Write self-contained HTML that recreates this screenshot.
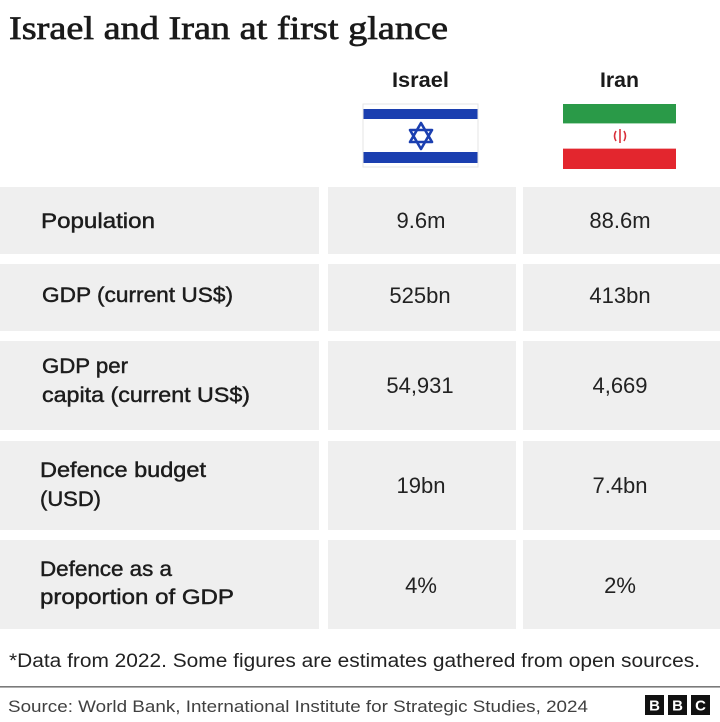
<!DOCTYPE html>
<html>
<head>
<meta charset="utf-8">
<style>
  html, body { margin:0; padding:0; background:#ffffff; }
  body { width:720px; height:722px; overflow:hidden; }
  svg { display:block; }
  .lab { font-family:"Liberation Sans", sans-serif; font-size:21px; fill:#1c1c1c; stroke:#1c1c1c; stroke-width:0.45px; }
  .val { font-family:"Liberation Sans", sans-serif; font-size:22px; fill:#222; text-anchor:middle; }
  .hdr { font-family:"Liberation Sans", sans-serif; font-size:21px; font-weight:bold; fill:#1a1a1a; text-anchor:middle; }
</style>
</head>
<body>
<svg width="720" height="722" viewBox="0 0 720 722" xmlns="http://www.w3.org/2000/svg">
  <rect x="0" y="0" width="720" height="722" fill="#ffffff"/>

  <!-- Title -->
  <text x="9" y="39" font-family="Liberation Serif, serif" font-size="33" fill="#1a1a1a" stroke="#1a1a1a" stroke-width="0.7" textLength="439" lengthAdjust="spacingAndGlyphs">Israel and Iran at first glance</text>

  <!-- Headers -->
  <text class="hdr" x="420.5" y="87" textLength="57" lengthAdjust="spacingAndGlyphs">Israel</text>
  <text class="hdr" x="619.5" y="87" textLength="39" lengthAdjust="spacingAndGlyphs">Iran</text>

  <!-- Israel flag -->
  <rect x="363" y="104" width="115" height="63" fill="#ffffff" stroke="#e6e6e6" stroke-width="1"/>
  <rect x="363.5" y="109" width="114" height="10" fill="#1b3fb0"/>
  <rect x="363.5" y="152" width="114" height="11" fill="#1b3fb0"/>
  <g fill="none" stroke="#1b3fb0" stroke-width="2.6" stroke-linejoin="round">
    <polygon points="421,123 432,142 410,142"/>
    <polygon points="421,149 432,130 410,130"/>
  </g>

  <!-- Iran flag -->
  <rect x="563" y="104" width="113" height="19" fill="#2a9a48"/>
  <rect x="563" y="123" width="113" height="26" fill="#ffffff"/>
  <rect x="563" y="149" width="113" height="20" fill="#e3262e"/>
  <line x1="563" y1="123.5" x2="676" y2="123.5" stroke="#a8d8b4" stroke-width="1"/>
  <line x1="563" y1="148.5" x2="676" y2="148.5" stroke="#f2b0b3" stroke-width="1"/>
  <g fill="none" stroke="#d9303a" stroke-width="1.6">
    <path d="M616,131 Q613,136 616,141"/>
    <path d="M624,131 Q627,136 624,141"/>
    <line x1="620" y1="129" x2="620" y2="143"/>
  </g>

  <!-- Cells -->
  <g fill="#efefef">
    <rect x="0" y="187" width="319" height="67"/>
    <rect x="328" y="187" width="188" height="67"/>
    <rect x="523" y="187" width="197" height="67"/>

    <rect x="0" y="264" width="319" height="67"/>
    <rect x="328" y="264" width="188" height="67"/>
    <rect x="523" y="264" width="197" height="67"/>

    <rect x="0" y="341" width="319" height="89"/>
    <rect x="328" y="341" width="188" height="89"/>
    <rect x="523" y="341" width="197" height="89"/>

    <rect x="0" y="441" width="319" height="89"/>
    <rect x="328" y="441" width="188" height="89"/>
    <rect x="523" y="441" width="197" height="89"/>

    <rect x="0" y="540" width="319" height="89"/>
    <rect x="328" y="540" width="188" height="89"/>
    <rect x="523" y="540" width="197" height="89"/>
  </g>

  <!-- Labels -->
  <text class="lab" x="41" y="228" textLength="114" lengthAdjust="spacingAndGlyphs">Population</text>
  <text class="lab" x="42" y="302" textLength="191" lengthAdjust="spacingAndGlyphs">GDP (current US$)</text>
  <text class="lab" x="42" y="373" textLength="86" lengthAdjust="spacingAndGlyphs">GDP per</text>
  <text class="lab" x="42" y="402" textLength="208" lengthAdjust="spacingAndGlyphs">capita (current US$)</text>
  <text class="lab" x="40" y="477" textLength="166" lengthAdjust="spacingAndGlyphs">Defence budget</text>
  <text class="lab" x="40" y="506" textLength="61" lengthAdjust="spacingAndGlyphs">(USD)</text>
  <text class="lab" x="40" y="576" textLength="132" lengthAdjust="spacingAndGlyphs">Defence as a</text>
  <text class="lab" x="40" y="604" textLength="194" lengthAdjust="spacingAndGlyphs">proportion of GDP</text>

  <!-- Values -->
  <text class="val" x="421" y="228">9.6m</text>
  <text class="val" x="620" y="228">88.6m</text>
  <text class="val" x="420" y="303">525bn</text>
  <text class="val" x="620" y="303">413bn</text>
  <text class="val" x="420" y="393">54,931</text>
  <text class="val" x="620" y="393">4,669</text>
  <text class="val" x="421" y="493">19bn</text>
  <text class="val" x="620" y="493">7.4bn</text>
  <text class="val" x="421" y="593">4%</text>
  <text class="val" x="620" y="593">2%</text>

  <!-- Footnote -->
  <text x="9" y="667" font-family="Liberation Sans, sans-serif" font-size="19" fill="#222" textLength="691" lengthAdjust="spacingAndGlyphs">*Data from 2022. Some figures are estimates gathered from open sources.</text>

  <!-- Divider -->
  <rect x="0" y="686" width="720" height="1.6" fill="#7a7a7a"/>

  <!-- Source -->
  <text x="8" y="712" font-family="Liberation Sans, sans-serif" font-size="17" fill="#404040" textLength="580" lengthAdjust="spacingAndGlyphs">Source: World Bank, International Institute for Strategic Studies, 2024</text>

  <!-- BBC logo -->
  <g>
    <rect x="645" y="695" width="19" height="20" fill="#111"/>
    <rect x="668" y="695" width="19" height="20" fill="#111"/>
    <rect x="691" y="695" width="19" height="20" fill="#111"/>
    <g font-family="Liberation Sans, sans-serif" font-size="15" font-weight="bold" fill="#ffffff" text-anchor="middle">
      <text x="654.5" y="710.5">B</text>
      <text x="677.5" y="710.5">B</text>
      <text x="700.5" y="710.5">C</text>
    </g>
  </g>
</svg>
</body>
</html>
